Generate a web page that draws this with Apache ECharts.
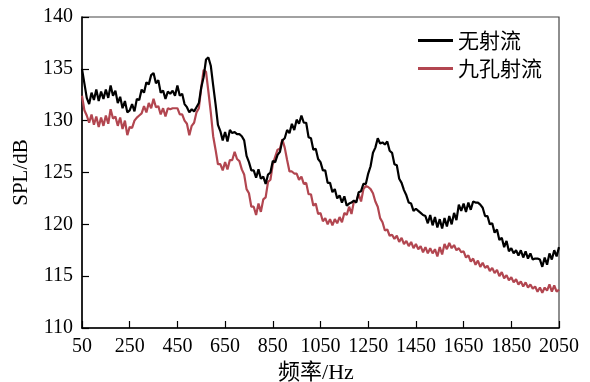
<!DOCTYPE html>
<html>
<head>
<meta charset="utf-8">
<script src="https://cdn.jsdelivr.net/npm/echarts@6/dist/echarts.min.js"></script>
<style>html,body{margin:0;padding:0;background:#fff;}#c{width:590px;height:382px;}</style>
</head>
<body>
<div id="c"></div>
<script>
// frequency grid (Hz), 10 Hz step from 50 to 2050
const freqStart = 50, freqStep = 10;
const xTicks = [50, 250, 450, 650, 850, 1050, 1250, 1450, 1650, 1850, 2050];
const yTicks = [110, 115, 120, 125, 130, 135, 140];
const seriesNames = ['无射流', '九孔射流'];
const noJet = [
135.0,133.6,132.2,131.6,132.7,132.0,133.0,131.9,132.8,132.1,
133.0,132.2,133.4,132.4,132.9,131.7,132.3,131.2,131.9,130.8,
131.0,131.6,130.9,132.1,132.0,133.0,132.7,133.7,133.5,134.4,
134.6,133.6,133.9,132.7,132.9,132.1,132.8,132.6,132.9,132.4,
133.4,132.4,132.6,131.6,131.3,130.8,131.1,130.9,131.3,131.7,
133.2,134.2,135.9,136.1,135.3,133.4,131.6,129.6,129.0,128.1,
128.9,128.0,129.1,128.8,128.9,128.7,128.7,128.5,128.1,126.6,
126.0,125.2,125.2,124.5,125.3,124.4,124.6,123.9,124.8,125.0,
126.1,126.0,126.7,127.0,128.1,128.3,129.1,128.8,129.7,129.1,
130.1,129.7,130.5,129.8,129.8,128.4,128.3,127.2,127.3,126.3,
126.0,125.2,125.2,124.0,124.0,123.1,123.4,122.5,122.8,122.1,
122.7,121.8,122.0,122.1,122.3,122.1,123.1,123.2,123.9,123.9,
124.9,125.6,126.9,127.4,128.3,127.8,127.9,127.7,128.0,127.1,
126.9,125.8,125.7,124.4,124.0,123.3,122.8,122.1,122.0,121.3,
121.5,121.3,121.1,120.9,120.8,120.1,120.9,119.9,120.7,119.7,
120.5,119.6,120.6,119.8,120.8,120.0,121.1,120.4,121.9,121.3,
122.0,121.2,122.1,121.4,122.2,122.1,122.1,121.9,121.6,120.8,
120.8,120.0,120.1,119.2,119.5,118.5,118.7,117.8,118.4,117.4,
117.7,117.2,117.5,117.0,117.5,116.8,117.4,116.7,117.2,116.6,
116.7,116.7,116.6,115.9,116.8,116.1,117.2,116.6,117.5,116.9,
117.8
];
const nineHole = [
132.4,131.0,130.5,129.8,130.6,129.6,130.4,129.4,130.3,129.5,
130.5,129.7,131.1,130.2,130.4,129.5,130.3,129.2,130.0,128.6,
129.4,129.3,130.0,130.3,130.5,130.7,131.4,130.8,131.7,131.2,
132.1,131.3,131.4,130.6,131.2,130.4,131.2,131.1,131.2,131.2,
131.2,130.6,130.6,130.0,129.7,128.6,129.5,129.8,130.8,131.2,
133.2,134.9,134.7,132.8,130.8,128.5,127.2,125.8,125.8,125.2,
126.0,125.3,126.2,126.2,127.0,126.3,126.1,125.3,124.8,123.4,
123.0,121.7,121.7,120.9,122.0,121.2,122.4,122.6,124.1,124.3,
125.8,126.5,127.2,127.3,128.2,127.4,126.2,125.1,125.1,124.9,
124.9,124.3,124.6,123.9,124.0,122.9,122.9,121.8,122.0,121.0,
121.1,120.3,120.6,120.0,120.5,119.9,120.5,120.1,120.7,120.2,
121.1,120.9,121.7,121.0,122.2,122.2,122.9,122.2,123.4,123.7,
123.6,123.4,123.0,122.2,121.7,120.6,120.2,119.4,119.5,118.9,
119.0,118.6,118.9,118.3,118.7,118.1,118.4,117.9,118.3,117.7,
118.1,117.6,117.9,117.3,117.8,117.2,117.7,117.2,117.6,116.9,
117.8,117.1,118.1,117.6,118.2,117.7,118.0,117.5,117.7,117.3,
117.4,116.8,117.0,116.4,116.7,116.1,116.5,115.9,116.3,115.8,
116.0,115.5,115.8,115.3,115.6,115.0,115.4,114.8,115.1,114.6,
114.9,114.4,114.7,114.2,114.5,114.0,114.4,113.9,114.2,113.8,
114.0,113.5,113.9,113.4,113.9,113.6,114.2,113.5,114.1,113.5,
113.7
];
const toPairs = arr => arr.map((v, i) => [freqStart + i * freqStep, v]);

const serif = '"Liberation Serif","Times New Roman",serif';
const chart = echarts.init(document.getElementById('c'), null, {renderer: 'canvas'});
chart.setOption({
  animation: false,
  backgroundColor: '#fff',
  grid: {left: 82, right: 31, top: 17, bottom: 54, outerBoundsMode: 'none', containLabel: false,
         show: true, borderColor: '#444', borderWidth: 1.2, backgroundColor: 'transparent'},
  legend: {
    orient: 'vertical', left: 413, top: 25, itemWidth: 35, itemHeight: 3, itemGap: 7,
    icon: 'rect',
    textStyle: {fontFamily: '"Noto Sans CJK SC"', fontSize: 21, color: '#000'},
    data: seriesNames
  },
  xAxis: {
    type: 'value', min: 50, max: 2050,
    name: '频率/Hz', nameLocation: 'middle', nameGap: 34,
    nameTextStyle: {fontFamily: serif + ',"Noto Sans CJK SC"', fontSize: 22, color: '#000', padding: [0, 9, 0, 0]},
    axisLine: {lineStyle: {color: '#000', width: 1.5}},
    axisTick: {inside: true, length: 7, lineStyle: {color: '#000', width: 1.2}, customValues: xTicks},
    axisLabel: {fontFamily: serif, fontSize: 20, color: '#000', margin: 9, customValues: xTicks, formatter: v => String(v)},
    splitLine: {show: false}
  },
  yAxis: {
    type: 'value', min: 110, max: 140, interval: 5,
    name: 'SPL/dB', nameLocation: 'middle', nameGap: 40,
    nameTextStyle: {fontFamily: serif, fontSize: 21, color: '#000'},
    axisLine: {show: true, lineStyle: {color: '#000', width: 1.5}},
    axisTick: {show: true, inside: true, length: 7, lineStyle: {color: '#000', width: 1.2}},
    axisLabel: {fontFamily: serif, fontSize: 20, color: '#000', margin: 9, formatter: v => String(v)},
    splitLine: {show: false}
  },
  series: [
    {name: seriesNames[0], type: 'line', data: toPairs(noJet), showSymbol: false, symbol: 'none',
     lineStyle: {color: '#000', width: 2.2}, itemStyle: {color: '#000'}, z: 2},
    {name: seriesNames[1], type: 'line', data: toPairs(nineHole), showSymbol: false, symbol: 'none',
     lineStyle: {color: '#b24650', width: 2.2}, itemStyle: {color: '#b24650'}, z: 1}
  ]
});
</script>
</body>
</html>
